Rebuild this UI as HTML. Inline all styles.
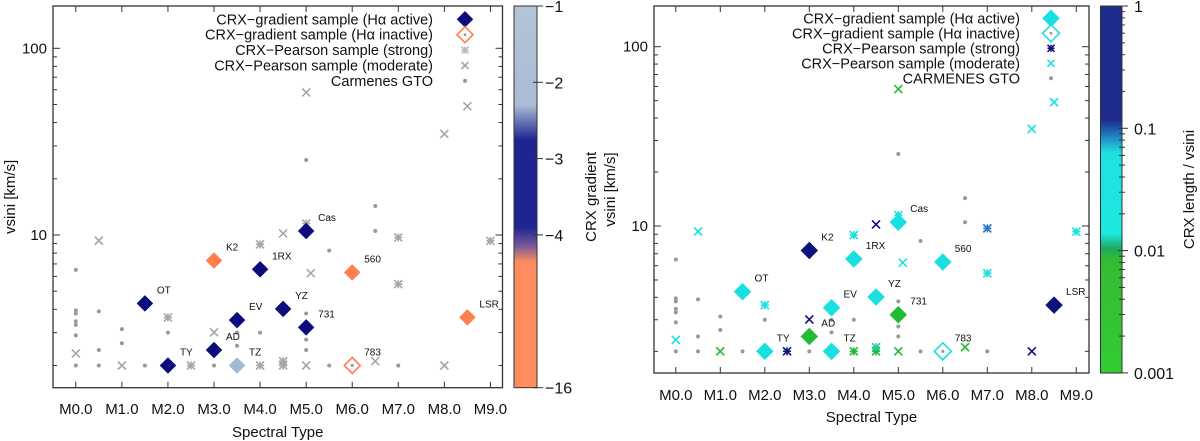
<!DOCTYPE html>
<html><head><meta charset="utf-8"><style>
html,body{margin:0;padding:0;background:#fff;}
svg{display:block;font-family:"Liberation Sans",sans-serif;}
</style></head><body>
<svg id="chart" width="1200" height="441" viewBox="0 0 1200 441" xmlns="http://www.w3.org/2000/svg">
<defs>
<linearGradient id="gradL" x1="0" y1="0" x2="0" y2="1">
<stop offset="0" stop-color="#b4c4d8"/><stop offset="0.26" stop-color="#a9bcd4"/>
<stop offset="0.30" stop-color="#6d7ab8"/><stop offset="0.35" stop-color="#1e2590"/>
<stop offset="0.58" stop-color="#1e2590"/><stop offset="0.63" stop-color="#7a5a9a"/>
<stop offset="0.67" stop-color="#ff8c5e"/><stop offset="1" stop-color="#ff8c5e"/>
</linearGradient>
<linearGradient id="gradR" x1="0" y1="0" x2="0" y2="1">
<stop offset="0" stop-color="#1e2a8c"/><stop offset="0.31" stop-color="#1e2a8c"/>
<stop offset="0.35" stop-color="#1e78c0"/><stop offset="0.40" stop-color="#1ee0e0"/>
<stop offset="0.62" stop-color="#1ee8e0"/><stop offset="0.66" stop-color="#1eaa60"/>
<stop offset="0.69" stop-color="#33bb33"/><stop offset="1" stop-color="#33cc33"/>
</linearGradient>
</defs>
</svg>
<script>
// ---- data ----
const starNames = ["OT","TY","AD","TZ","EV","1RX","YZ","Cas","731","K2","560","LSR","783"];
const starType  = [1.5, 2.0, 3.0, 3.5, 3.5, 4.0, 4.5, 5.0, 5.0, 3.0, 6.0, 8.5, 6.0];
const starVsini = [4.3, 2.0, 2.42, 2.0, 3.5, 6.55, 4.02, 10.5, 3.2, 7.3, 6.3, 3.62, 2.0];
const starActive= [1,1,1,1,1,1,1,1,1,1,1,1,0];
const starGradient = [-3.3,-3.3,-3.3,-1.5,-3.3,-3.3,-3.3,-3.3,-3.3,-8,-8,-8,-8];
const starRatio = [0.03,0.03,0.004,0.03,0.03,0.03,0.03,0.03,0.004,0.5,0.03,0.5,0.03];

const pearType  = [0.0,0.5,1.0,2.0,2.5,3.0,4.0,4.0,4.5,4.5,4.5,5.0,5.0,5.1,5.0,6.5,7.0,7.0,8.0,8.0,8.5,9.0];
const pearVsini = [2.32,9.33,2.0,3.62,2.0,3.01,8.9,2.0,10.2,2.0,2.11,58,11.5,6.24,2.0,2.11,9.7,5.45,34.8,2.0,49,9.3];
const pearStrong= [0,0,0,1,1,0,1,1,0,1,1,0,1,0,0,0,1,1,0,0,0,1];
const pearRatio = [0.012,0.03,0.004,0.03,0.15,0.5,0.03,0.004,0.5,0.004,0.01,0.004,0.03,0.03,0.004,0.004,0.1,0.03,0.03,0.5,0.03,0.03];

const gtoType  = [0,0,0,0,0,0,0,0.5,0.5,0.5,1.0,1.0,1.5,2.0,3.0,3.5,3.5,4.0,5.0,5.0,5.0,5.0,5.5,5.5,6.0,6.5,6.5,7.0];
const gtoVsini = [6.5,3.95,3.8,3.45,3.3,2.9,2.0,3.9,2.42,2.0,3.13,2.63,2.0,3.0,2.0,3.0,2.55,3.0,25.2,3.8,2.75,2.42,8.25,2.0,2.0,14.3,10.5,2.0];

const xTickLabels = ["M0.0","M1.0","M2.0","M3.0","M4.0","M5.0","M6.0","M7.0","M8.0","M9.0"];
const yTickValues = [10,100];
const cbLeftTicks = [-1,-2,-3,-4,-16];
const cbRightTicks = [1,0.1,0.01,0.001];
const cbRightLabels = ["1","0.1","0.01","0.001"];

// ---- helpers ----
const svg = document.getElementById('chart');
const NS = "http://www.w3.org/2000/svg";
function mk(tag, attrs, parent){
  const e = document.createElementNS(NS, tag);
  for (const k in attrs) e.setAttribute(k, attrs[k]);
  (parent||svg).appendChild(e); return e;
}
function txt(s, x, y, size, anchor, parent, rot){
  const t = mk('text',{x:x,y:y,'font-size':size,'text-anchor':anchor||'start',fill:'#111'},parent);
  if (rot) t.setAttribute('transform','rotate(-90 '+x+' '+y+')');
  t.textContent = s; return t;
}
function colL(g){
  if (g > -2.3) return "#a3b8d2";
  if (g > -4.1) return "#0c0c7c";
  return "#ff7f4e";
}
function colR(r){
  if (r >= 0.12) return "#0c137c";
  if (r >= 0.07) return "#2a7ac8";
  if (r >= 0.011) return "#19e0e0";
  if (r >= 0.008) return "#2cc8a0";
  return "#22bb33";
}

function panel(P){
  const g = mk('g',{});
  
  
  const X = t => P.x0 + t*P.dx;
  const Y = v => P.y10 - (Math.log10(v)-1)*P.dec;
  const fr = mk('rect',{x:P.L,y:P.T,width:P.R-P.L,height:P.B-P.T,fill:'none',stroke:'#333','stroke-width':1.3},g);
  
  
  for (let d=0; d<3; d++){
    for (let m=1; m<10; m++){
      const v = m*Math.pow(10,d);
      const y = Y(v);
      if (y < P.T || y > P.B) continue;
      const len = m===1?7:4;
      mk('line',{x1:P.L,x2:P.L+len,y1:y,y2:y,stroke:'#333','stroke-width':1},g);
      mk('line',{x1:P.R,x2:P.R-len,y1:y,y2:y,stroke:'#333','stroke-width':1},g);
    }
  }
  yTickValues.forEach(v=>{
    const t = txt(String(v), P.L-6, Y(v)+5, 15, 'end', g);
    
    
  });
  xTickLabels.forEach((s,i)=>{
    const x = X(i);
    mk('line',{x1:x,x2:x,y1:P.B,y2:P.B-6,stroke:'#333','stroke-width':1},g);
    mk('line',{x1:x,x2:x,y1:P.T,y2:P.T+6,stroke:'#333','stroke-width':1},g);
    const t = txt(s, x, P.xlabY, 15, 'middle', g);
    
    
  });
  const xt = txt("Spectral Type", (P.L+P.R)/2, P.xtitleY, 15, 'middle', g);
  
  
  const yt = txt("vsini [km/s]", P.ytitleX, (P.T+P.B)/2, 15, 'middle', g, true);
  
  

  function cross(x,y,c,strong,parent,s){
    s = s||4;
    const gg = mk('g',{stroke:c,'stroke-width':1.6,fill:'none'},parent);
    mk('line',{x1:x-s,y1:y-s,x2:x+s,y2:y+s},gg);
    mk('line',{x1:x-s,y1:y+s,x2:x+s,y2:y-s},gg);
    if (strong){ mk('line',{x1:x-s,y1:y,x2:x+s,y2:y},gg); mk('line',{x1:x,y1:y-s,x2:x,y2:y+s},gg); }
    return gg;
  }
  function diamond(x,y,c,filled,parent,s){
    s = s||P.ds;
    const pts = [x,y-s,x+s,y,x,y+s,x-s,y].join(' ');
    return mk('polygon',{points:pts,fill:filled?c:'#fff',stroke:c,'stroke-width':filled?0.5:1.6},parent);
  }
  gtoType.forEach((t,i)=>{
    const c = mk('circle',{cx:X(t),cy:Y(gtoVsini[i]),r:2,fill:'#999'},g);
    
    
  });
  pearType.forEach((t,i)=>{
    const c = P.right ? colR(pearRatio[i]) : '#a6a6a6';
    const m = cross(X(t),Y(pearVsini[i]),c,pearStrong[i],g);
    
    
  });
  starType.forEach((t,i)=>{
    const c = P.right ? colR(starRatio[i]) : colL(starGradient[i]);
    const x = X(t), y = Y(starVsini[i]);
    const d = diamond(x,y,c,starActive[i],g);
    
    
    if (!starActive[i]) mk('circle',{cx:x,cy:y,r:1.6,fill:'#999'},g);
    const l = txt(starNames[i], x+12, y-10, 10, 'start', g);
    
    
  });

  const lg = mk('g',{},g);
  
  
  P.legend.forEach((s,i)=>{
    const y = P.legY0 + i*P.legDy;
    const t = txt(s, P.legTextX, y+5, 14.5, 'end', lg);
    
    
    const sx = P.legSymX;
    let m;
    if (i===0) m = diamond(sx,y,P.legCols[0],true,lg);
    else if (i===1){ m = diamond(sx,y,P.legCols[1],false,lg); mk('circle',{cx:sx,cy:y,r:1.4,fill:'#999'},lg); }
    else if (i===2) m = cross(sx,y,P.legCols[2],true,lg,3.5);
    else if (i===3) m = cross(sx,y,P.legCols[3],false,lg,3.5);
    else m = mk('circle',{cx:sx,cy:y,r:2,fill:'#999'},lg);
    
    
  });

  const cb = mk('g',{},g);
  
  
  mk('rect',{x:P.cbL,y:P.T,width:P.cbR-P.cbL,height:P.B-P.T,fill:P.cbFill,stroke:'#333','stroke-width':1},cb);
  P.cbTicks.forEach((v,i)=>{
    const y = P.cbY(v);
    mk('line',{x1:P.cbR,x2:P.cbR+6,y1:y,y2:y,stroke:'#333','stroke-width':1},cb);
    mk('line',{x1:P.cbR,x2:P.cbR-4,y1:y,y2:y,stroke:'#333','stroke-width':1},cb);
    const t = txt(P.cbLabels[i], P.cbR+P.cbLabDx, y+6, 16, 'start', cb);
    
    
  });
  if (P.right){
    for (let d=-3; d<0; d++) for (let m=2; m<10; m++){
      const y = P.cbY(m*Math.pow(10,d));
      mk('line',{x1:P.cbR,x2:P.cbR+3,y1:y,y2:y,stroke:'#333','stroke-width':1},cb);
      mk('line',{x1:P.cbR,x2:P.cbR-3,y1:y,y2:y,stroke:'#333','stroke-width':1},cb);
    }
  }
  const ct = txt(P.cbTitle, P.cbTitleX, (P.T+P.B)/2, 15, 'middle', cb, true);
  
  
}

panel({
  name:'left-panel', right:false,
  L:53, R:502.5, T:6, B:387.7,
  x0:75.8, dx:46.07, y10:235, dec:186.7, ds:8,
  xlabY:414, xtitleY:437, ytitleX:15,
  legend:["CRX\u2212gradient sample (H\u03b1 active)","CRX\u2212gradient sample (H\u03b1 inactive)","CRX\u2212Pearson sample (strong)","CRX\u2212Pearson sample (moderate)","Carmenes GTO"],
  legCols:["#0c0c7c","#ff7f4e","#bbbbbb","#a6a6a6"],
  legTextX:433, legSymX:465, legY0:19.3, legDy:15.4,
  cbL:514, cbR:537, cbFill:'url(#gradL)',
  cbTicks:cbLeftTicks, cbLabels:["\u22121","\u22122","\u22123","\u22124","\u221216"],
  cbY:v => v>=-4 ? 6 + (-1-v)*76.3 : 235 + (-4-v)/12*152.7,
  cbLabDx:8, cbTitle:"CRX gradient", cbTitleX:596
});
panel({
  name:'right-panel', right:true,
  L:654, R:1089, T:6, B:373,
  x0:675.8, dx:44.5, y10:226, dec:179.3, ds:8.5,
  xlabY:400, xtitleY:422, ytitleX:615,
  legend:["CRX\u2212gradient sample (H\u03b1 active)","CRX\u2212gradient sample (H\u03b1 inactive)","CRX\u2212Pearson sample (strong)","CRX\u2212Pearson sample (moderate)","CARMENES GTO"],
  legCols:["#19e0e0","#19e0e0","#0c137c","#19e0e0"],
  legTextX:1020, legSymX:1051, legY0:18.3, legDy:15,
  cbL:1100.5, cbR:1122, cbFill:'url(#gradR)',
  cbTicks:cbRightTicks, cbLabels:cbRightLabels,
  cbY:v => 6 + (-Math.log10(v))*122.3,
  cbLabDx:12, cbTitle:"CRX length / vsini", cbTitleX:1194
});
</script>
</body></html>
